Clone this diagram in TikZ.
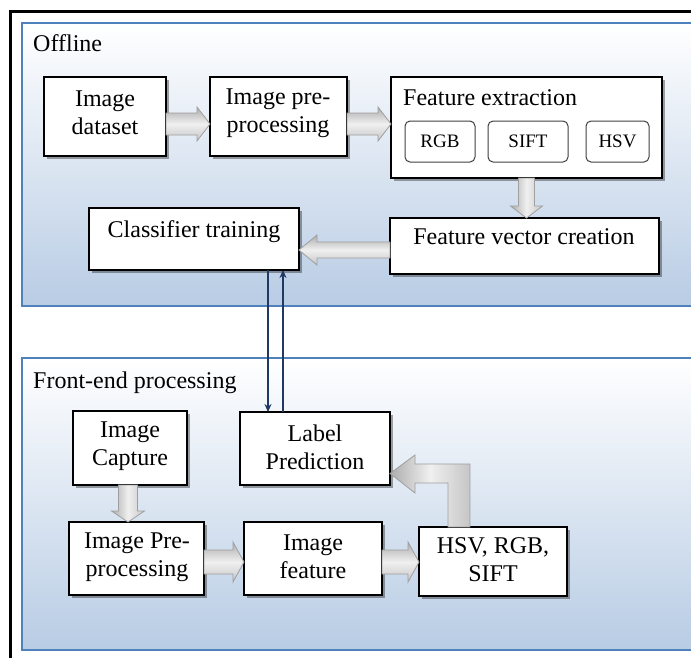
\documentclass[tikz,border=0pt]{standalone}
\usepackage{fontspec}
\setmainfont{Liberation Serif}
\usetikzlibrary{calc,shadows,arrows.meta}
\definecolor{panelblue}{HTML}{B8CCE4}
\definecolor{panelline}{HTML}{4F81BD}
\definecolor{navy}{HTML}{1F3864}
\tikzset{
  panel/.style={draw=panelline, line width=2.8pt, top color=white, bottom color=panelblue},
  box/.style={draw=black, line width=1.4pt, fill=white, inner sep=0pt, outer sep=0pt, anchor=north west,
    drop shadow={shadow xshift=2.5pt, shadow yshift=-2.5pt, fill=black, opacity=0.35}},
  sbox/.style={draw=black!75, line width=1pt, fill=white, rounded corners=5pt, inner sep=0pt, outer sep=0pt,
    anchor=north west, font=\fontsize{19}{22}\selectfont},
  big/.style={font=\fontsize{24}{28}\selectfont, align=center, inner sep=0pt},
  barrowH/.style={draw=gray!75, line width=0.8pt, top color=gray!65, bottom color=gray!45, middle color=gray!12},
  barrowV/.style={draw=gray!75, line width=0.8pt, left color=gray!65, right color=gray!45, middle color=gray!12},
  link/.style={draw=navy, line width=2.2pt, -{Stealth[length=8pt,width=7pt]}},
}
\newcommand\barrow[6]{%
  \coordinate (ba-h) at ($(#2)!#5!(#1)$);
  \path[#6] ($(#1)!#3!90:(#2)$) -- ($(ba-h)!#3!90:(#2)$) -- ($(ba-h)!#4!90:(#2)$) -- (#2)
    -- ($(ba-h)!#4!-90:(#2)$) -- ($(ba-h)!#3!-90:(#2)$) -- ($(#1)!#3!-90:(#2)$) -- cycle;}
\begin{document}
\begin{tikzpicture}[x=1pt,y=-1pt]
\useasboundingbox (0,0) rectangle (691,657);
\clip (0,0) rectangle (691,657);
\fill[white] (0,0) rectangle (691,657);
\draw[line width=3pt] (10,11) rectangle (760,760);
\path[panel] (22,23) rectangle (720,306);
\path[panel] (22,358) rectangle (720,650);
\node[big, anchor=base west] (offl) at (33,51) {Offline};
\node[big, anchor=base west] (fep) at (33,388) {Front-end processing};

% boxes
\node[box, minimum width=122pt, minimum height=79pt] (ds) at (44,77) {};
\node[box, minimum width=137pt, minimum height=79pt] (pp) at (210,77) {};
\node[box, minimum width=271pt, minimum height=101pt] (fe) at (391,77) {};
\node[sbox, minimum width=70pt, minimum height=41pt] (rgb) at (405,121) {RGB};
\node[sbox, minimum width=80pt, minimum height=41pt] (sift) at (488,121) {SIFT};
\node[sbox, minimum width=63pt, minimum height=41pt] (hsv) at (586,121) {HSV};
\node[box, minimum width=269pt, minimum height=56pt] (fv) at (390,218) {};
\node[box, minimum width=210pt, minimum height=62pt] (ct) at (89,208) {};
\node[box, minimum width=114pt, minimum height=74pt] (ic) at (73,411) {};
\node[box, minimum width=150pt, minimum height=73pt] (lp) at (240,412) {};
\node[box, minimum width=135pt, minimum height=73pt] (ipp) at (69,522) {};
\node[box, minimum width=138pt, minimum height=73pt] (if) at (244,522) {};
\node[box, minimum width=148pt, minimum height=69pt] (hs) at (419,527) {};

% texts
\node[big] (t-ds) at (105,113) {Image\\dataset};
\node[big] (t-pp) at (278,113) {Image pre-\\processing};
\node[big, anchor=base west] (t-fe) at (403,105) {Feature extraction};
\node[big, anchor=base] (t-fv) at (524,244) {Feature vector creation};
\node[big, anchor=base] (t-ct) at (194,237) {Classifier training};
\node[big] (t-ic) at (130,446) {Image\\Capture};
\node[big] (t-lp) at (315,447) {Label\\Prediction};
\node[big] (t-ipp) at (137,557) {Image Pre-\\processing};
\node[big] (t-if) at (313,557) {Image\\feature};
\node[big] (t-hs) at (493,560) {HSV, RGB,\\SIFT};

% block arrows
\coordinate (a1s) at ($(ds.east)+(0,7.5)$); \coordinate (a1e) at (a1s -| pp.west);
\barrow{a1s}{a1e}{11pt}{17pt}{13pt}{barrowH}
\coordinate (a2s) at ($(pp.east)+(0,7.5)$); \coordinate (a2e) at (a2s -| fe.west);
\barrow{a2s}{a2e}{11pt}{17pt}{13pt}{barrowH}
\coordinate (a3s) at (fe.south); \coordinate (a3e) at (fe.south |- fv.north);
\barrow{a3s}{a3e}{8pt}{16pt}{12pt}{barrowV}
\coordinate (a4s) at ($(fv.west)+(0,4)$); \coordinate (a4e) at (a4s -| ct.east);
\barrow{a4s}{a4e}{8pt}{15pt}{18pt}{barrowH}
\coordinate (a5s) at ($(ic.south)+(-2,0)$); \coordinate (a5e) at (a5s |- ipp.north);
\barrow{a5s}{a5e}{9.5pt}{16.5pt}{11pt}{barrowV}
\coordinate (a6s) at ($(ipp.east)+(0,3.5)$); \coordinate (a6e) at (a6s -| if.west);
\barrow{a6s}{a6e}{12pt}{20pt}{11pt}{barrowH}
\coordinate (a7s) at ($(if.east)+(0,3.5)$); \coordinate (a7e) at (a7s -| hs.west);
\barrow{a7s}{a7e}{12pt}{20pt}{11pt}{barrowH}

% elbow arrow HSV -> Label Prediction
\coordinate (eb) at ([xshift=-34pt]hs.north);
\coordinate (et) at ([yshift=-25pt]lp.east);
\path[barrowV] ($(eb)+(-11,0)$) -- ($(eb |- et)+(-11,9.5)$) -- ($(et)+(25,9.5)$) -- ($(et)+(25,19.5)$)
  -- (et) -- ($(et)+(25,-18.5)$) -- ($(et)+(25,-9.5)$) -- ($(eb |- et)+(11,-9.5)$) -- ($(eb)+(11,0)$) -- cycle;

% links
\coordinate (l1) at ([xshift=-31pt]ct.south east);
\draw[link] (l1) -- (l1 |- lp.north);
\coordinate (l2) at ([xshift=-16pt]ct.south east);
\draw[link] (l2 |- lp.north) -- (l2);
\end{tikzpicture}
\end{document}
